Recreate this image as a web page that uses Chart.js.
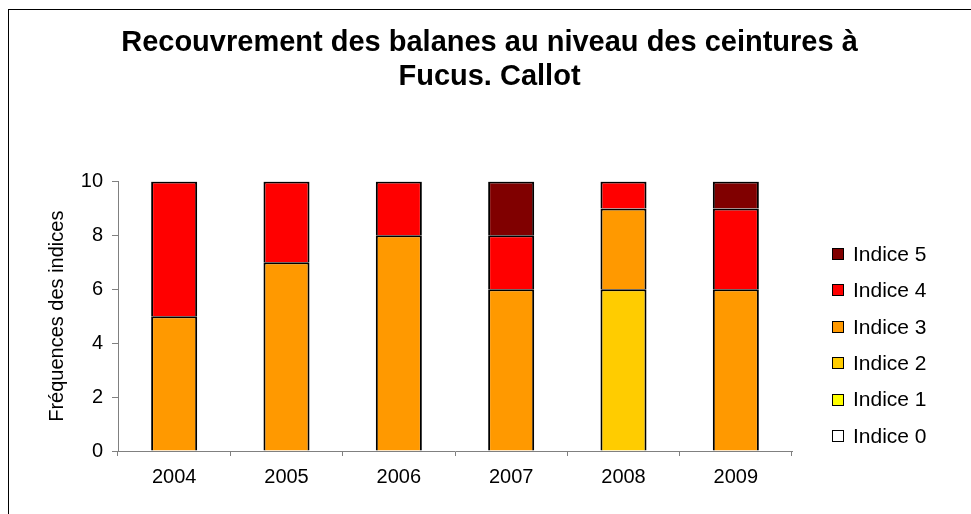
<!DOCTYPE html>
<html>
<head>
<meta charset="utf-8">
<script src="https://cdn.jsdelivr.net/npm/chart.js@4"></script>
<style>
html,body{margin:0;padding:0;background:#fff;}
#wrap{width:971px;height:514px;position:relative;}
</style>
</head>
<body>
<div id="wrap"><canvas id="c" width="971" height="514"></canvas></div>
<script>
const categories = ['2004', '2005', '2006', '2007', '2008', '2009'];
const indice0 = [0, 0, 0, 0, 0, 0];
const indice1 = [0, 0, 0, 0, 0, 0];
const indice2 = [0, 0, 0, 0, 6, 0];
const indice3 = [5, 7, 8, 6, 3, 6];
const indice4 = [5, 3, 2, 2, 1, 3];
const indice5 = [0, 0, 0, 2, 0, 1];
const seriesNames = ['Indice 0', 'Indice 1', 'Indice 2', 'Indice 3', 'Indice 4', 'Indice 5'];
const seriesColors = ['#FFFFFF', '#FFFF00', '#FFCC00', '#FF9900', '#FF0000', '#800000'];
const yTicks = [0, 2, 4, 6, 8, 10];
const titleLines = ['Recouvrement des balanes au niveau des ceintures à', 'Fucus. Callot'];
const yTitle = 'Fréquences des indices';

const FONT = "'Liberation Sans', Arial, sans-serif";
const seriesData = [indice0, indice1, indice2, indice3, indice4, indice5];

const datasets = seriesNames.map((name, i) => ({
  label: name,
  data: seriesData[i],
  backgroundColor: seriesColors[i],
  borderColor: '#000000',
  borderWidth: 2,
  borderSkipped: 'start',
  categoryPercentage: 1.0,
  barPercentage: 0.41,
  stack: 's'
}));

const frame = {
  id: 'frame',
  beforeDraw(chart) {
    const ctx = chart.ctx;
    ctx.save();
    ctx.fillStyle = '#fff';
    ctx.fillRect(0, 0, chart.width, chart.height);
    ctx.strokeStyle = '#000';
    ctx.lineWidth = 1;
    ctx.strokeRect(8.5, 9.5, chart.width + 20, chart.height + 20);
    ctx.restore();
  }
};

const sideLegend = {
  id: 'sideLegend',
  afterDraw(chart) {
    const ctx = chart.ctx;
    const area = chart.chartArea;
    const x0 = area.right + 40;
    const step = 36.4;
    const n = chart.data.datasets.length;
    const startY = 254;
    ctx.save();
    ctx.font = '21px ' + FONT;
    ctx.textBaseline = 'middle';
    ctx.textAlign = 'left';
    for (let k = 0; k < n; k++) {
      const ds = chart.data.datasets[n - 1 - k];
      const y = startY + k * step;
      ctx.fillStyle = ds.backgroundColor;
      ctx.fillRect(x0, Math.round(y - 6), 12, 12);
      ctx.strokeStyle = '#000';
      ctx.lineWidth = 1;
      ctx.strokeRect(x0 + 0.5, Math.round(y - 6) + 0.5, 11, 11);
      ctx.fillStyle = '#000';
      ctx.fillText(ds.label, x0 + 21, y + 1);
    }
    ctx.restore();
  }
};

new Chart(document.getElementById('c'), {
  type: 'bar',
  data: { labels: categories, datasets },
  plugins: [frame, sideLegend],
  options: {
    responsive: false,
    animation: false,
    devicePixelRatio: 1,
    layout: { padding: { left: 8, right: 0, top: 0, bottom: 0 } },
    plugins: {
      legend: { display: false },
      tooltip: { enabled: false },
      title: {
        display: true,
        text: titleLines,
        color: '#000',
        font: { family: FONT, size: 29, weight: 'bold', lineHeight: 1.18 },
        padding: { top: 26, bottom: 87 }
      }
    },
    scales: {
      x: {
        stacked: true,
        afterFit(s) { s.height = 63; },
        grid: { display: true, drawOnChartArea: false, drawTicks: true, tickLength: 5, color: '#808080', offset: true },
        border: { display: true, color: '#808080', width: 1 },
        ticks: { color: '#000', font: { family: FONT, size: 20 }, padding: 9, maxRotation: 0 }
      },
      y: {
        stacked: true,
        min: 0,
        max: 10,
        afterFit(s) { s.width = 110; },
        afterBuildTicks(s) { s.ticks = yTicks.map(v => ({ value: v })); },
        grid: { display: true, drawOnChartArea: false, drawTicks: true, tickLength: 6, color: '#808080' },
        border: { display: true, color: '#808080', width: 1 },
        ticks: { color: '#000', font: { family: FONT, size: 20 }, padding: 9 },
        title: { display: true, text: yTitle, color: '#000', font: { family: FONT, size: 20 }, padding: { top: 37, bottom: 0 } }
      },
      r: {
        type: 'linear',
        position: 'right',
        display: true,
        afterFit(s) { s.width = 179; },
        grid: { display: false },
        border: { display: false },
        ticks: { display: false }
      }
    }
  }
});
</script>
</body>
</html>
